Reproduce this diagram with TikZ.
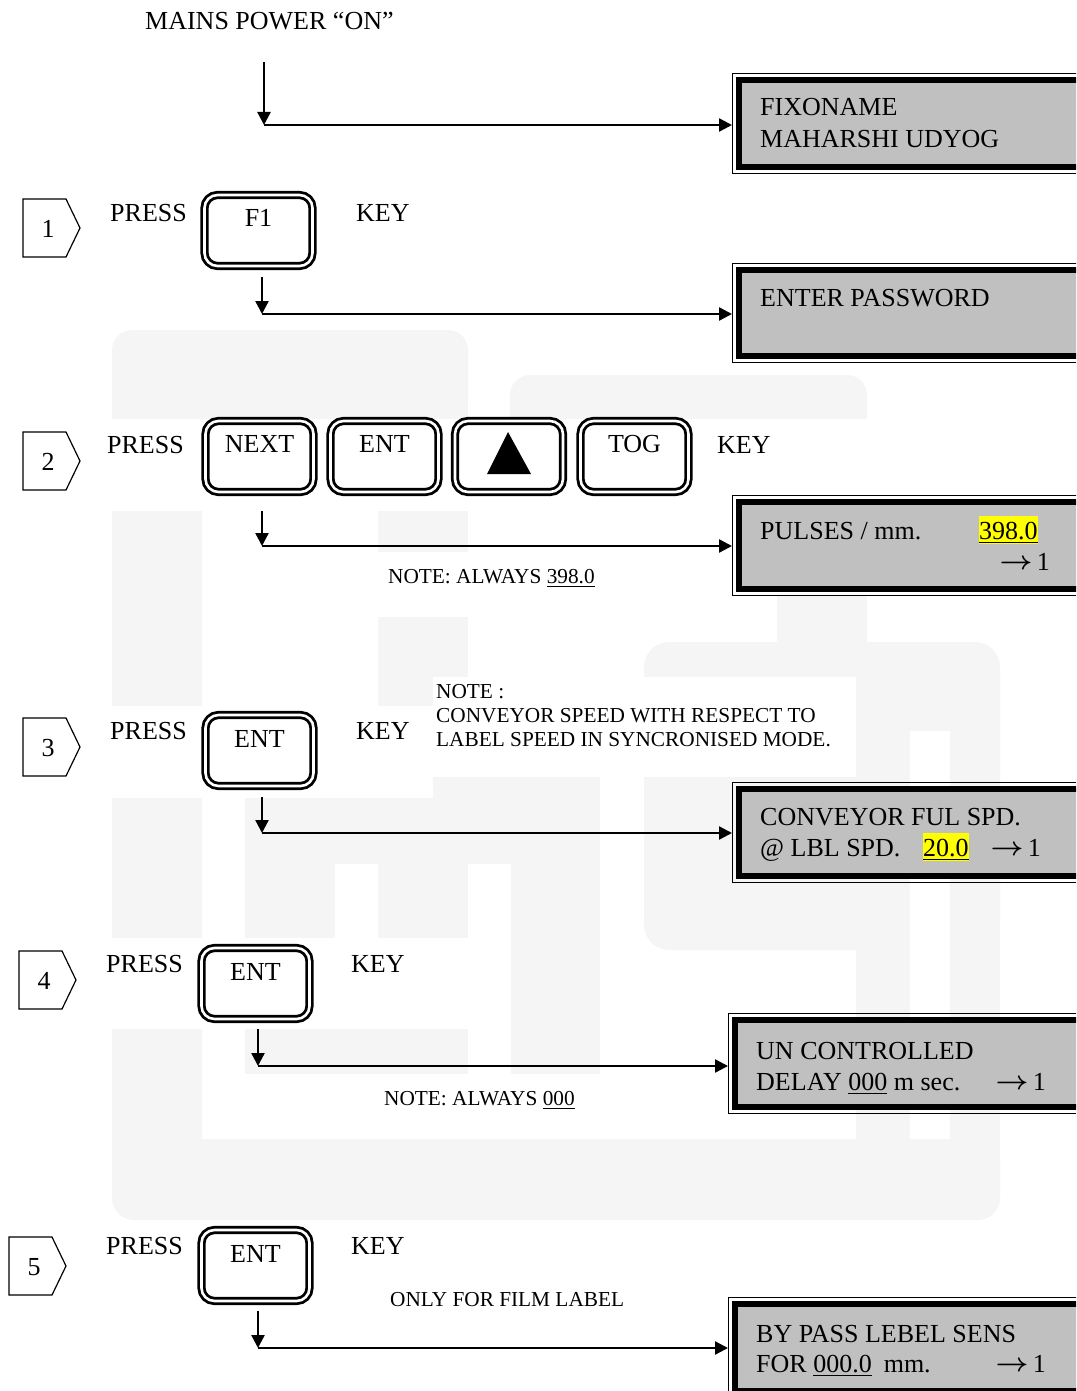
\documentclass[tikz,border=0pt]{standalone}
\usepackage{fontspec}
\setmainfont{Liberation Serif}
\usetikzlibrary{arrows.meta,calc}
\definecolor{wm}{HTML}{F5F5F5}
\definecolor{lcdgray}{HTML}{C0C0C0}
\definecolor{hl}{HTML}{FFFF00}
\newcommand\bigf{\fontsize{26}{30}\selectfont}
\newcommand\notef{\fontsize{21.3}{24}\selectfont}
\newcommand\goarrow{\raisebox{0.5pt}{\scalebox{1.15}[1.05]{$\boldsymbol{\rightarrow}$}}}
\usepackage{amsmath}
\begin{document}
\begin{tikzpicture}[x=1pt,y=-1pt,
  txt/.style={inner sep=0pt,anchor=base west,font=\bigf},
  txtr/.style={inner sep=0pt,anchor=base east,font=\bigf,text height=17pt,text depth=0pt},
  notetxt/.style={inner sep=0pt,anchor=base west,font=\notef},
  keytxt/.style={inner sep=0pt,anchor=base,font=\bigf},
  keybox/.style={draw,line width=2.8pt,double=white,double distance=2.6pt,rounded corners=13pt,minimum width=108pt,minimum height=71pt,inner sep=0pt},
  lcdo/.style={draw,line width=1.4pt,inner sep=0pt,anchor=north west},
  lcdi/.style={draw,line width=5.5pt,fill=lcdgray,inner sep=0pt},
  hlbox/.style={fill=hl,inner xsep=0pt,inner ysep=1.5pt,text height=22pt,text depth=3.5pt,anchor=base west,font=\bigf},
  marker/.style={draw,line width=1.2pt},
  arr/.style={line width=2.3pt,-{Triangle[length=13pt,width=13pt]}}
]
\clip (0,0) rectangle (1076,1391);
\fill[white] (0,0) rectangle (1076,1391);

% ---------- watermark ----------
\begin{scope}[wm]
\fill[rounded corners=20pt] (112,330) rectangle (468,419);
\fill (112,360) rectangle (468,419);
\fill[rounded corners=20pt] (510,375) rectangle (867,419);
\fill (510,400) rectangle (867,419);
\fill (112,511) rectangle (202,706);
\fill (378,511) rectangle (468,552);
\fill (378,617) rectangle (468,706);
\fill (112,798) rectangle (202,938);
\fill (245,798) rectangle (600,864);
\fill (433,777) rectangle (600,798);
\fill (245,864) rectangle (335,938);
\fill (378,864) rectangle (468,938);
\fill (511,864) rectangle (600,1074);
\fill (245,1029) rectangle (468,1074);
\fill (112,1029) rectangle (202,1180);
\fill[rounded corners=22pt] (112,1139) rectangle (1000,1220);
\fill (112,1139) rectangle (1000,1180);
\fill[rounded corners=25pt] (644,642) rectangle (1000,950);
\fill (777,595) rectangle (867,642);
\fill (856,900) rectangle (910,1139);
\fill (950,900) rectangle (1000,1139);
\end{scope}
\fill[white] (433,677) rectangle (856,777);
\fill[white] (910,731) rectangle (950,1139);

% ---------- top ----------
\node[txt] (mains) at (145,30) {MAINS POWER “ON”};
\coordinate (m0) at (264,62);
\coordinate (m1) at (264,125);

% ---------- LCD boxes ----------
\node[lcdo,minimum width=360pt,minimum height=100pt] (d1) at (732,73) {};
\node[lcdi,minimum width=347pt,minimum height=87pt] (d1i) at (d1.center) {};
\node[txt] (d1t1) at (760,116) {FIXONAME};
\node[txt] (d1t2) at (760,148) {MAHARSHI UDYOG};

\node[lcdo,minimum width=360pt,minimum height=99pt] (d2) at (732,263) {};
\node[lcdi,minimum width=347pt,minimum height=86pt] (d2i) at (d2.center) {};
\node[txt] (d2t1) at (760,306) {ENTER PASSWORD};

\node[lcdo,minimum width=360pt,minimum height=100pt] (d3) at (732,495) {};
\node[lcdi,minimum width=347pt,minimum height=87pt] (d3i) at (d3.center) {};
\node[txt] (d3t1) at (760,539) {PULSES / mm.};
\node[hlbox] (d3v) at (979,539) {\underline{398.0}};
\node[txtr] (d3a) at (1050,570) {\goarrow\,1};

\node[lcdo,minimum width=360pt,minimum height=100pt] (d4) at (732,782) {};
\node[lcdi,minimum width=347pt,minimum height=87pt] (d4i) at (d4.center) {};
\node[txt] (d4t1) at (760,825) {CONVEYOR FUL SPD.};
\node[txt] (d4t2) at (760,856) {@ LBL SPD.};
\node[hlbox] (d4v) at (923,856) {\underline{20.0}};
\node[txtr] (d4a) at (1041,856) {\goarrow\,1};

\node[lcdo,minimum width=364pt,minimum height=100pt] (d5) at (728,1013) {};
\node[lcdi,minimum width=351pt,minimum height=87pt] (d5i) at (d5.center) {};
\node[txt] (d5t1) at (756,1059) {UN CONTROLLED};
\node[txt] (d5t2) at (756,1090) {DELAY \underline{000} m sec.};
\node[txtr] (d5a) at (1046,1090) {\goarrow\,1};

\node[lcdo,minimum width=364pt,minimum height=100pt] (d6) at (728,1297) {};
\node[lcdi,minimum width=351pt,minimum height=87pt] (d6i) at (d6.center) {};
\node[txt] (d6t1) at (756,1342) {BY PASS LEBEL SENS};
\node[txt] (d6t2) at (756,1372) {FOR \underline{000.0}\hspace{12pt}mm.};
\node[txtr] (d6a) at (1046,1372) {\goarrow\,1};

% ---------- step markers ----------
\draw[marker] (23,199) -- (66,199) -- (80,228) -- (66,257) -- (23,257) -- cycle;
\node[keytxt] (s1) at (48,237) {1};
\draw[marker] (23,432) -- (66,432) -- (80,461) -- (66,490) -- (23,490) -- cycle;
\node[keytxt] (s2) at (48,470) {2};
\draw[marker] (23,718) -- (66,718) -- (80,747) -- (66,776) -- (23,776) -- cycle;
\node[keytxt] (s3) at (48,756) {3};
\draw[marker] (19,951) -- (62,951) -- (76,980) -- (62,1009) -- (19,1009) -- cycle;
\node[keytxt] (s4) at (44,989) {4};
\draw[marker] (9,1237) -- (52,1237) -- (66,1266) -- (52,1295) -- (9,1295) -- cycle;
\node[keytxt] (s5) at (34,1275) {5};

% ---------- step 1 ----------
\node[txt] (p1) at (110,221.6) {PRESS};
\node[keybox] (k1) at (258.5,230.5) {};
\node[keytxt] (k1t) at (258.5,226) {F1};
\node[txt] (y1) at (356,221.6) {KEY};

% ---------- step 2 ----------
\node[txt] (p2) at (107,453.6) {PRESS};
\node[keybox] (k2a) at (259.5,456.5) {};
\node[keytxt] (k2at) at (259.5,452) {NEXT};
\node[keybox] (k2b) at (384.5,456.5) {};
\node[keytxt] (k2bt) at (384.5,452) {ENT};
\node[keybox] (k2c) at (509,456.5) {};
\fill (508,432) -- (531,474) -- (487,474) -- cycle;
\node[keybox] (k2d) at (634.5,456.5) {};
\node[keytxt] (k2dt) at (634.5,452) {TOG};
\node[txt] (y2) at (717,453.6) {KEY};
\node[notetxt] (n2) at (388,583) {NOTE: ALWAYS \underline{398.0}};

% ---------- step 3 ----------
\node[txt] (p3) at (110,739.6) {PRESS};
\node[keybox] (k3) at (259.5,750.5) {};
\node[keytxt] (k3t) at (259.5,747) {ENT};
\node[txt] (y3) at (356,739.6) {KEY};
\node[notetxt] (n3a) at (436,698) {NOTE :};
\node[notetxt] (n3b) at (436,722) {CONVEYOR SPEED WITH RESPECT TO};
\node[notetxt] (n3c) at (436,746) {LABEL SPEED IN SYNCRONISED MODE.};

% ---------- step 4 ----------
\node[txt] (p4) at (106,972.6) {PRESS};
\node[keybox] (k4) at (255.5,983.5) {};
\node[keytxt] (k4t) at (255.5,980) {ENT};
\node[txt] (y4) at (351,972.6) {KEY};
\node[notetxt] (n4) at (384,1105) {NOTE: ALWAYS \underline{000}};

% ---------- step 5 ----------
\node[txt] (p5) at (106,1254.6) {PRESS};
\node[keybox] (k5) at (255.5,1265.5) {};
\node[keytxt] (k5t) at (255.5,1262) {ENT};
\node[txt] (y5) at (351,1254.6) {KEY};
\node[notetxt] (n5) at (390,1306) {ONLY FOR FILM LABEL};

% ---------- connectors ----------
\coordinate (a1) at (262,277); \coordinate (c1) at (262,314);
\coordinate (a2) at (262,511); \coordinate (c2) at (262,546);
\coordinate (a3) at (262,797); \coordinate (c3) at (262,833);
\coordinate (a4) at (258,1029); \coordinate (c4) at (258,1066);
\coordinate (a5) at (258,1311); \coordinate (c5) at (258,1348);

\draw[arr] (m0) -- (m1);
\draw[arr] (m1) -- (m1 -| d1.west);
\draw[arr] (a1) -- (c1);
\draw[arr] (c1) -- (c1 -| d2.west);
\draw[arr] (a2) -- (c2);
\draw[arr] (c2) -- (c2 -| d3.west);
\draw[arr] (a3) -- (c3);
\draw[arr] (c3) -- (c3 -| d4.west);
\draw[arr] (a4) -- (c4);
\draw[arr] (c4) -- (c4 -| d5.west);
\draw[arr] (a5) -- (c5);
\draw[arr] (c5) -- (c5 -| d6.west);
\end{tikzpicture}
\end{document}
